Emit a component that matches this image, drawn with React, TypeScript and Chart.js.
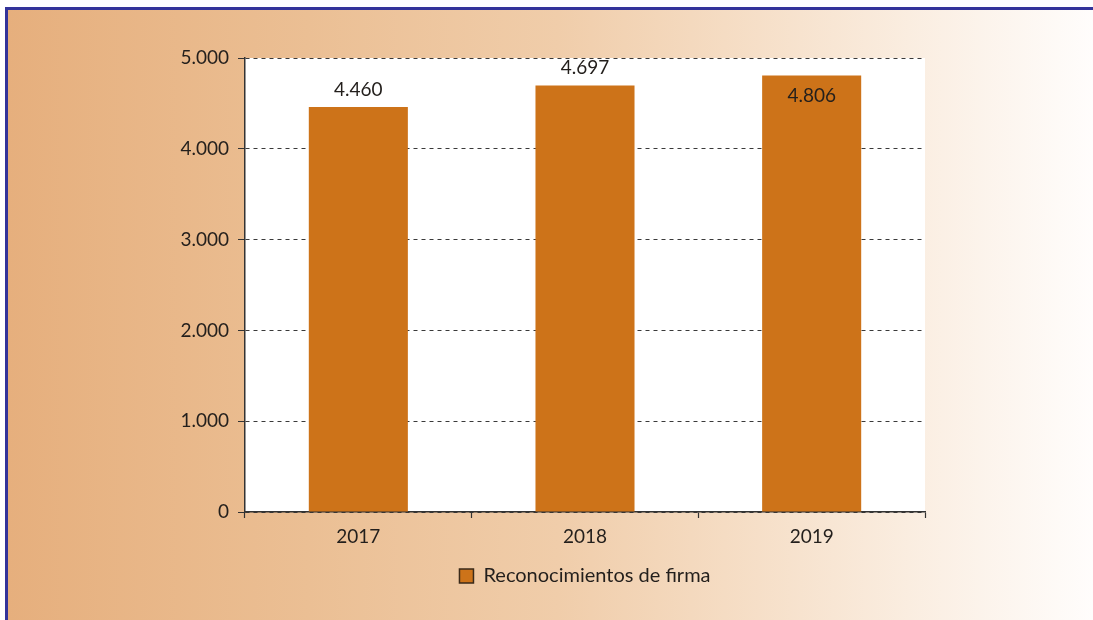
import React, { useEffect, useRef } from "react";
import { Chart, registerables } from "chart.js";
Chart.register(...registerables);

const categories = ["2017", "2018", "2019"];
const values = [4460, 4697, 4806];
const valueLabels = ["4.460", "4.697", "4.806"];
const yMin = 0;
const yMax = 5000;
const yStep = 1000;
const seriesName = "Reconocimientos de firma";

const FONT = "Lato, 'Open Sans', sans-serif";
const BAR = "#CD7319";
const TEXT = "#231f1c";

const fmt = (v: number) => String(v).replace(/\B(?=(\d{3})+(?!\d))/g, ".");

const plotBg = {
  id: "plotBg",
  beforeDraw(chart: any) {
    const { ctx, chartArea } = chart;
    ctx.save();
    ctx.fillStyle = "#ffffff";
    ctx.fillRect(chartArea.left, chartArea.top, chartArea.right - chartArea.left, chartArea.bottom - chartArea.top);
    ctx.restore();
  },
};

const valueLabelPlugin = {
  id: "valueLabels",
  afterDatasetsDraw(chart: any) {
    const { ctx, chartArea } = chart;
    const meta = chart.getDatasetMeta(0);
    ctx.save();
    ctx.font = `19px ${FONT}`;
    ctx.fillStyle = TEXT;
    ctx.textAlign = "center";
    meta.data.forEach((bar: any, i: number) => {
      const { x, y } = bar.getProps(["x", "y"], true);
      const txt = valueLabels[i];
      if (y - 25 < chartArea.top) {
        ctx.textBaseline = "top";
        ctx.fillText(txt, x, y + 11);
      } else {
        ctx.textBaseline = "bottom";
        ctx.fillText(txt, x, y - 8);
      }
    });
    ctx.restore();
  },
};

export default function App() {
  const ref = useRef<HTMLCanvasElement>(null);
  useEffect(() => {
    if (!ref.current) return;
    const chart = new Chart(ref.current, {
      type: "bar",
      data: {
        labels: categories,
        datasets: [
          {
            label: seriesName,
            data: values,
            backgroundColor: BAR,
            borderWidth: 0,
            categoryPercentage: 1,
            barPercentage: 0.437,
          },
        ],
      },
      options: {
        animation: false,
        responsive: false,
        maintainAspectRatio: false,
        layout: { padding: { left: 150, right: 168, top: 58, bottom: 24 } },
        scales: {
          x: {
            offset: true,
            afterFit: (s: any) => {
              s.height = 44;
            },
            grid: {
              display: true,
              offset: true,
              drawOnChartArea: false,
              drawTicks: true,
              tickLength: 6,
              tickColor: "#333",
              tickWidth: 1.2,
            },
            border: { display: true, color: "#333", width: 1.5 },
            ticks: { font: { family: FONT, size: 19 }, color: TEXT, padding: 7 },
          },
          y: {
            min: yMin,
            max: yMax,
            afterFit: (s: any) => {
              s.width = 95;
            },
            ticks: {
              stepSize: yStep,
              font: { family: FONT, size: 19 },
              color: TEXT,
              padding: 9,
              callback: (v: any) => fmt(Number(v)),
            },
            grid: {
              color: "#3a3a3a",
              lineWidth: 1,
              tickLength: 7,
              tickColor: "#333",
              tickBorderDash: [],
            },
            border: { display: true, color: "#333", width: 1.5, dash: [4, 4] },
          },
        },
        plugins: {
          legend: {
            position: "bottom",
            fullSize: false,
            labels: {
              boxWidth: 14,
              boxHeight: 14,
              font: { family: FONT, size: 20 },
              color: TEXT,
              generateLabels: (c: any) =>
                (Chart.defaults.plugins.legend.labels as any).generateLabels(c).map((l: any) => ({
                  ...l,
                  strokeStyle: "#3a2a1a",
                  lineWidth: 1.5,
                })),
            },
          },
          tooltip: { enabled: false },
        },
      } as any,
      plugins: [plotBg, valueLabelPlugin],
    });
    return () => chart.destroy();
  }, []);

  return (
    <div style={{ position: "fixed", left: 0, top: 0, width: 1093, height: 620, overflow: "hidden", background: "#ffffff" }}>
      <div
        style={{
          position: "absolute",
          left: 5,
          top: 7,
          width: 1200,
          height: 700,
          border: "3px solid #33339a",
          background:
            "linear-gradient(to right, #E6AF7D 0px, #EBBF94 300px, #F0CDAA 550px, #F6DFC8 750px, #FAEDE0 900px, #FFFDFC 1085px, #FFFFFF 1200px)",
        }}
      />
      <canvas ref={ref} width={1093} height={620} style={{ position: "absolute", left: 0, top: 0, width: 1093, height: 620 }} />
    </div>
  );
}
